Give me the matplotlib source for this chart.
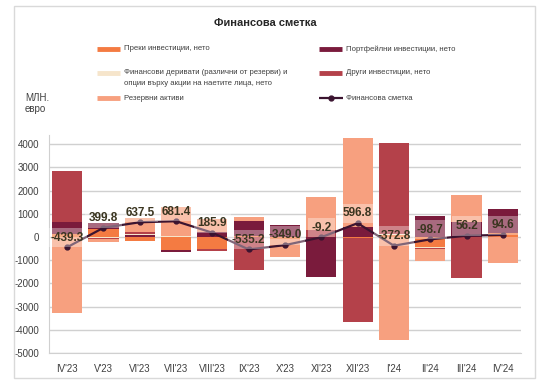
import numpy as np
import matplotlib
matplotlib.use('Agg')
import matplotlib.pyplot as plt
from matplotlib.lines import Line2D
from matplotlib.patches import Rectangle

plt.rcParams['font.family'] = ['Liberation Sans Narrow', 'Liberation Sans', 'DejaVu Sans']
plt.rcParams['axes.unicode_minus'] = False

# ── Data (млн. евро) ───────────────────────────────────────────────────────
months = ["IV'23", "V'23", "VI'23", "VII'23", "VIII'23", "IX'23", "X'23",
          "XI'23", "XII'23", "I'24", "II'24", "III'24", "IV'24"]
direct = [150, 330, -180, -560, -500, 30, -80, 10, -60, 80, -420, 10, 190]
portfolio = [480, 290, 100, -80, 200, 650, 520, -1720, 450, 0, 920, 640, 1020]
derivatives = [30, -60, 20, 50, 30, 20, 0, 0, 0, 50, -40, 0, 0]
other = [2170, -30, 90, 0, -100, -1420, 0, 290, -3610, 3920, -60, -1750, 0]
reserves = [-3270, -130, 600, 1260, 560, 180, -790, 1410, 3820, -4420, -500, 1160, -1120]
net = [-439.3, 399.8, 637.5, 681.4, 185.9, -535.2, -349.0, -9.2, 596.8, -372.8, -98.7, 56.2, 94.6]

series = [
    ("Преки инвестиции, нето", direct, '#F47B42'),
    ("Портфейлни инвестиции, нето", portfolio, '#7A1B3C'),
    ("Финансови деривати (различни от резерви) и\nопции върху акции на наетите лица, нето", derivatives, '#F6E5CB'),
    ("Други инвестиции, нето", other, '#B4414A'),
    ("Резервни активи", reserves, '#F7A07F'),
]
LINE_COLOR = '#3B1430'

# ── Figure ──────────────────────────────────────────────────────────────────
fig = plt.figure(figsize=(5.41, 3.86), dpi=100, facecolor='white')
fig.add_artist(Rectangle((14 / 541, 1 - 378 / 386), 521 / 541, 372 / 386,
                         transform=fig.transFigure, fill=False,
                         edgecolor='#D9D9D9', linewidth=1))
ax = fig.add_axes([49 / 541, 33 / 386, 472 / 541, 218 / 386])

x = np.arange(len(months))
pos_base = np.zeros(len(months))
neg_base = np.zeros(len(months))
for name, vals, col in series:
    v = np.array(vals, dtype=float)
    bottoms = np.where(v >= 0, pos_base, neg_base)
    ax.bar(x, v, 0.83, bottom=bottoms, color=col, zorder=2)
    pos_base += np.where(v >= 0, v, 0)
    neg_base += np.where(v < 0, v, 0)

ax.plot(x, net, color=LINE_COLOR, lw=1.6, marker='o', ms=3.5, zorder=4)
for xi, val in zip(x, net):
    ax.annotate(f'{val:.1f}', (xi, val), xytext=(0, 7), textcoords='offset points',
                ha='center', va='center', fontsize=8.5, fontweight='bold',
                color='#3A3520', zorder=5,
                bbox=dict(boxstyle='square,pad=0.3', fc='white', ec='none', alpha=0.35))

ax.set_xlim(-0.5, len(months) - 0.5)
ax.set_ylim(-5000, 4400)
ax.set_yticks(np.arange(-5000, 4001, 1000))
ax.set_yticklabels([str(t) for t in range(-5000, 4001, 1000)])
ax.set_xticks(x)
ax.set_xticklabels(months)
ax.tick_params(length=0, labelsize=7, colors='#404040', pad=8)
ax.tick_params(axis='y', pad=7)
ax.yaxis.grid(True, color='#D0D0D0', lw=1, zorder=0)
ax.set_axisbelow(True)
for s in ['top', 'right']:
    ax.spines[s].set_visible(False)
ax.spines['left'].set_color('#D0D0D0')
ax.spines['bottom'].set_color('#D0D0D0')

# ── Title, unit, legend ─────────────────────────────────────────────────────
fig.text(265 / 541, 1 - 23 / 386, 'Финансова сметка', ha='center', va='center',
         fontsize=8, fontweight='bold', color='#262626')
fig.text(25 / 541, 1 - 98 / 386, 'МЛН.', ha='left', va='center', fontsize=7, color='#404040')
fig.text(25 / 541, 1 - 109 / 386, 'евро', ha='left', va='center', fontsize=7, color='#404040')

leg_slots = [(97, 49), (319, 49), (97, 73), (319, 73), (97, 98)]
for (px, py), (name, _, col) in zip(leg_slots, series):
    fig.add_artist(Line2D([px / 541, (px + 23) / 541], [1 - py / 386] * 2,
                          transform=fig.transFigure, color=col, lw=3.5,
                          solid_capstyle='butt'))
    fig.text((px + 27) / 541, 1 - (py - 3.5) / 386, name, ha='left', va='top',
             fontsize=5.6, color='#404040', linespacing=1.7)
fig.add_artist(Line2D([319 / 541, 343 / 541], [1 - 98 / 386] * 2,
                      transform=fig.transFigure, color=LINE_COLOR, lw=1.6,
                      solid_capstyle='butt'))
fig.add_artist(Line2D([331 / 541], [1 - 98 / 386], transform=fig.transFigure,
                      color=LINE_COLOR, marker='o', ms=3.5))
fig.text(346 / 541, 1 - 94.5 / 386, 'Финансова сметка', ha='left', va='top',
         fontsize=5.6, color='#404040')

fig.savefig('out.png', dpi=100)
